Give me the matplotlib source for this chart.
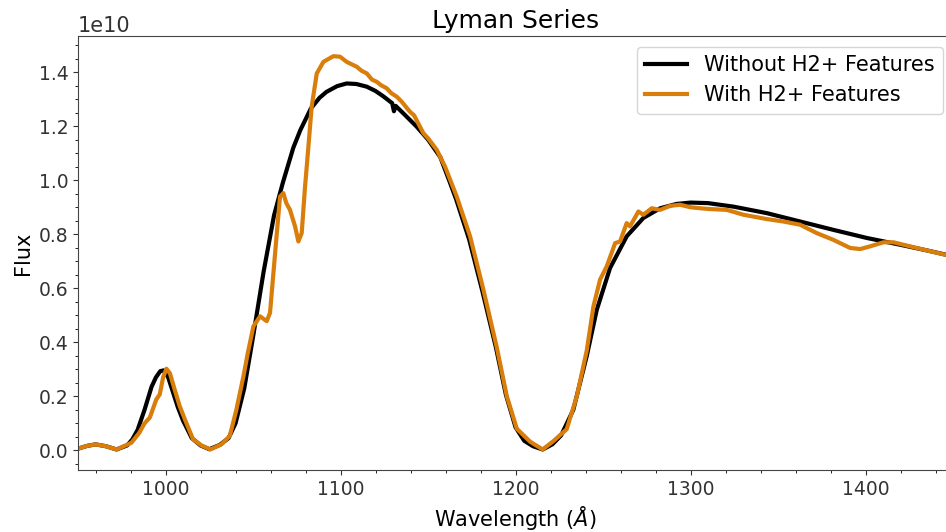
import numpy as np
import matplotlib
matplotlib.use("Agg")
import matplotlib.pyplot as plt

# Spectrum without the H2+ features (flux in units of 1e10)
wl_without = [950, 955, 960, 966, 972, 978, 981, 984, 988, 992, 994.5, 997, 999,
              1001.5, 1004.5, 1007, 1010, 1015, 1020, 1025, 1031, 1036, 1040, 1045,
              1050, 1056, 1062, 1067, 1073, 1077, 1083, 1088, 1092, 1098, 1103.5,
              1109, 1115, 1120, 1124.5, 1129.5, 1130.5, 1131.5, 1137, 1143.5, 1150,
              1157, 1162, 1166, 1173.5, 1181, 1188.8, 1194.5, 1200, 1205, 1210,
              1215.5, 1221, 1226, 1233, 1240.7, 1246.4, 1254, 1263.5, 1273, 1282.6,
              1292, 1300, 1310, 1324.5, 1343.5, 1362.6, 1381.6, 1400.7, 1419.7,
              1435, 1450]
flux_without = [0.006, 0.016, 0.022, 0.015, 0.003, 0.018, 0.04, 0.075, 0.15, 0.235,
                0.27, 0.293, 0.296, 0.27, 0.21, 0.16, 0.11, 0.045, 0.018, 0.004,
                0.02, 0.045, 0.1, 0.23, 0.42, 0.66, 0.87, 0.99, 1.12, 1.185, 1.265,
                1.305, 1.327, 1.348, 1.358, 1.356, 1.346, 1.33, 1.31, 1.285, 1.255,
                1.275, 1.24, 1.198, 1.15, 1.085, 1.0, 0.93, 0.78, 0.59, 0.38, 0.205,
                0.085, 0.035, 0.015, 0.003, 0.022, 0.055, 0.15, 0.35, 0.52, 0.675,
                0.792, 0.86, 0.896, 0.912, 0.917, 0.915, 0.902, 0.878, 0.847, 0.816,
                0.786, 0.761, 0.74, 0.718]

# Spectrum with the H2+ features
wl_with = [950, 955, 960, 966, 972, 980.5, 985, 988, 991, 994.7, 996.7, 998.6,
           1000.5, 1002.5, 1005.2, 1008, 1011, 1015.7, 1020.5, 1025.6, 1031.9, 1036.7,
           1040.5, 1044.5, 1047, 1050.2, 1054, 1057.8, 1059.7, 1062.6, 1065.4,
           1067.3, 1069, 1071.1, 1074, 1075.9, 1077.8, 1079.7, 1081, 1083.5, 1086.4,
           1090.2, 1095.9, 1099.7, 1103.5, 1106, 1109.2, 1112, 1115, 1118, 1120.7,
           1123, 1126.4, 1129, 1132.1, 1135, 1139.7, 1142, 1147.3, 1150, 1155,
           1159.7, 1166.4, 1174, 1181.6, 1189.3, 1195, 1200.7, 1208.3, 1215.5,
           1221.6, 1229.2, 1235, 1240.7, 1244.5, 1248.3, 1252.1, 1256.9, 1259.7,
           1263.5, 1265.4, 1270.2, 1273, 1277.8, 1282.6, 1288.3, 1294, 1299.7,
           1305.4, 1311.1, 1320.7, 1330.2, 1343.5, 1353, 1362.6, 1372.1, 1381.6,
           1391.2, 1396.9, 1402.6, 1410.2, 1415.9, 1429.2, 1445.4, 1450]
flux_with = [0.006, 0.016, 0.022, 0.015, 0.003, 0.028, 0.065, 0.1, 0.121, 0.188,
             0.207, 0.27, 0.302, 0.285, 0.225, 0.165, 0.115, 0.041, 0.018, 0.003,
             0.022, 0.053, 0.151, 0.274, 0.36, 0.459, 0.496, 0.478, 0.509, 0.73,
             0.939, 0.952, 0.915, 0.89, 0.829, 0.773, 0.804, 0.976, 1.075, 1.272,
             1.395, 1.438, 1.459, 1.457, 1.438, 1.43, 1.42, 1.405, 1.395, 1.372,
             1.364, 1.352, 1.34, 1.322, 1.309, 1.29, 1.253, 1.24, 1.174, 1.155,
             1.112, 1.05, 0.939, 0.792, 0.595, 0.38, 0.2, 0.08, 0.032, 0.003,
             0.034, 0.078, 0.2, 0.37, 0.533, 0.632, 0.681, 0.767, 0.773, 0.841,
             0.829, 0.884, 0.872, 0.896, 0.89, 0.905, 0.909, 0.9, 0.896, 0.893,
             0.89, 0.872, 0.856, 0.847, 0.835, 0.804, 0.779, 0.749, 0.745, 0.755,
             0.77, 0.77, 0.749, 0.724, 0.717]

scale = 1e10
fig = plt.figure(figsize=(9.46, 5.32), dpi=100)
# axes run a little past the right edge, like the cropped original
ax = fig.add_axes([0.0825, 0.1165, 0.925, 0.8155])

ax.plot(wl_without, np.array(flux_without) * scale, color='black', lw=3,
        label='Without H2+ Features')
ax.plot(wl_with, np.array(flux_with) * scale, color='#d97d0b', lw=3,
        label='With H2+ Features')

ax.set_xlim(950, 1450)
ax.set_ylim(-0.073 * scale, 1.533 * scale)
ax.minorticks_on()
ax.tick_params(labelsize=13.5, colors='#333333')
ax.yaxis.get_offset_text().set_fontsize(15)
for s in ax.spines.values():
    s.set_color('#444444')

ax.set_title('Lyman Series', fontsize=18)
ax.set_xlabel('Wavelength ($\\AA$)', fontsize=15)
ax.set_ylabel('Flux', fontsize=15)
ax.legend(loc='upper right', fontsize=15)

fig.savefig('out.png', dpi=100)
